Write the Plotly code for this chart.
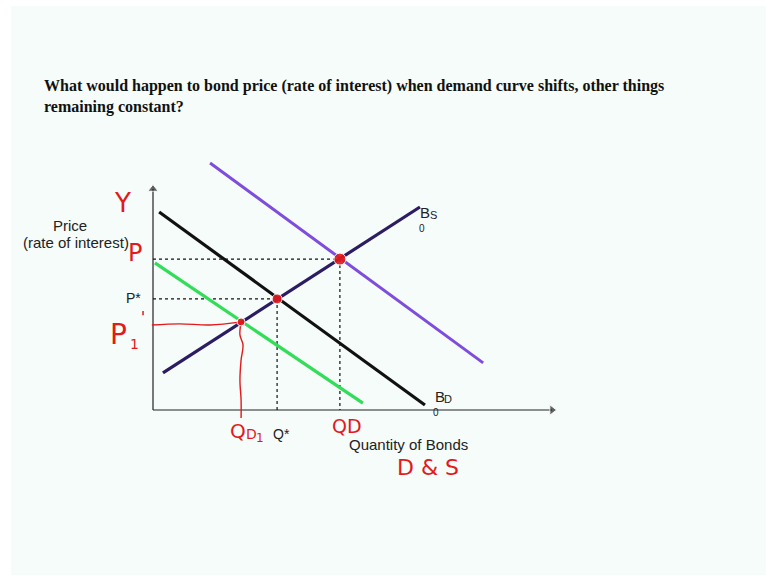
import plotly.graph_objects as go

# --- bond market curves (quantity, price) ---
supply_q = [0.26, 6.97]
supply_p = [0.97, 5.30]

demand0_q = [0.16, 7.10]      # original demand B_D0
demand0_p = [5.17, 0.13]

demand_low_q = [0.05, 5.48]   # demand shifted left
demand_low_p = [3.84, 0.18]

demand_high_q = [1.49, 8.62]  # demand shifted right
demand_high_p = [6.45, 1.23]

# equilibria: original, after rightward shift, after leftward shift
eq_q = [3.24, 4.88, 2.30]
eq_p = [2.90, 3.94, 2.30]

# axis extents
q_max = 10.42
p_max = 5.77

# hand-drawn marker guide from P1 to QD1
p1_guide_q = [-0.03, 0.70, 1.49, 2.30]
p1_guide_p = [2.22, 2.25, 2.22, 2.30]
qd1_guide_q = [2.30, 2.27, 2.35, 2.30, 2.27, 2.30, 2.30]
qd1_guide_p = [2.30, 1.96, 1.70, 1.31, 0.78, 0.26, -0.21]
stray_q = [-0.26]
stray_p = [2.53]

W, H = 766, 579
PX = 38.3                 # pixels per unit
ORIGIN = (153, 410)       # pixel position of the axes origin
x_range = [-ORIGIN[0] / PX, (W - ORIGIN[0]) / PX]
y_range = [-(H - ORIGIN[1]) / PX, ORIGIN[1] / PX]

INK = "#222222"
RED = "#e3191c"
SANS = "Liberation Sans, Arial, sans-serif"
HAND = "DejaVu Sans, sans-serif"

fig = go.Figure()

# axes with arrowheads
fig.add_trace(go.Scatter(x=[0, q_max], y=[0, 0], mode="lines+markers",
                         line=dict(color=INK, width=1.2),
                         marker=dict(symbol=["circle", "triangle-right"], size=[0, 9], color=INK),
                         hoverinfo="skip"))
fig.add_trace(go.Scatter(x=[0, 0], y=[0, p_max], mode="lines+markers",
                         line=dict(color=INK, width=1.2),
                         marker=dict(symbol=["circle", "triangle-up"], size=[0, 9], color=INK),
                         hoverinfo="skip"))

# dotted guides from original and right-shift equilibria
for q, p in zip(eq_q[:2], eq_p[:2]):
    fig.add_trace(go.Scatter(x=[0, q], y=[p, p], mode="lines",
                             line=dict(color="#111111", width=1.2, dash="dot"), hoverinfo="skip"))
    fig.add_trace(go.Scatter(x=[q, q], y=[p, 0], mode="lines",
                             line=dict(color="#111111", width=1.2, dash="dot"), hoverinfo="skip"))

# curves
fig.add_trace(go.Scatter(x=demand_high_q, y=demand_high_p, mode="lines",
                         line=dict(color="#7f4ddd", width=3)))
fig.add_trace(go.Scatter(x=demand0_q, y=demand0_p, mode="lines",
                         line=dict(color="#111111", width=3.2)))
fig.add_trace(go.Scatter(x=demand_low_q, y=demand_low_p, mode="lines",
                         line=dict(color="#33dd5a", width=3.2)))
fig.add_trace(go.Scatter(x=supply_q, y=supply_p, mode="lines",
                         line=dict(color="#2b1c63", width=3.2)))

# hand-drawn guides
fig.add_trace(go.Scatter(x=p1_guide_q, y=p1_guide_p, mode="lines",
                         line=dict(color=RED, width=1.4, shape="spline"), hoverinfo="skip"))
fig.add_trace(go.Scatter(x=qd1_guide_q, y=qd1_guide_p, mode="lines",
                         line=dict(color=RED, width=1.4, shape="spline"), hoverinfo="skip"))
fig.add_trace(go.Scatter(x=stray_q, y=stray_p, mode="markers",
                         marker=dict(color=RED, size=3, symbol="line-ns",
                                     line=dict(color=RED, width=1.5)), hoverinfo="skip"))

# equilibrium dots
fig.add_trace(go.Scatter(x=eq_q, y=eq_p, mode="markers",
                         marker=dict(color=RED, size=[10, 12, 8], opacity=0.9)))

ann = []


def px_to_data(px, py):
    return (px - ORIGIN[0]) / PX, (ORIGIN[1] - py) / PX


def label(px, py, text, size=15, color=INK, family=SANS):
    x, y = px_to_data(px, py)
    ann.append(dict(x=x, y=y, xref="x", yref="y",
                    text=text, showarrow=False, xanchor="center", yanchor="middle",
                    font=dict(size=size, color=color, family=family)))


# printed labels
for pos, text, size in [
    ((70, 225), "Price", 15),
    ((76, 242), "(rate of interest)", 15),
    ((133, 298), "P*", 14),
    ((281, 434), "Q*", 14),
    ((408, 444), "Quantity of Bonds", 15),
    ((425, 212), "B", 15),
    ((433, 215), "S", 11),
    ((422, 228), "0", 10),
    ((440, 396), "B", 15),
    ((448, 399), "D", 11),
    ((436, 412), "0", 10),
]:
    label(*pos, text, size=size)

# handwritten notes
for pos, text, size in [
    ((122, 203), "Y", 26),
    ((135, 253), "P", 24),
    ((118, 334), "P", 28),
    ((134, 344), "1", 14),
    ((238, 431), "Q", 20),
    ((251, 434), "D", 14),
    ((260, 438), "1", 12),
    ((347, 426), "QD", 19),
    ((428, 467), "D & S", 22),
]:
    label(*pos, text, size=size, color=RED, family=HAND)

# slide title
ann.append(dict(x=42 / W, y=1 - 96 / H, xref="paper", yref="paper", xanchor="left", yanchor="middle",
                align="left", showarrow=False,
                text="<b>What would happen to bond price (rate of interest) when demand curve shifts, other things"
                     "<br>remaining constant?</b>",
                font=dict(size=16, color="#111111", family="Liberation Serif, Times New Roman, serif")))

fig.update_layout(
    width=W, height=H, margin=dict(l=0, r=0, t=0, b=0),
    paper_bgcolor="white", plot_bgcolor="rgba(0,0,0,0)",
    showlegend=False,
    xaxis=dict(range=x_range, visible=False, fixedrange=True),
    yaxis=dict(range=y_range, visible=False, fixedrange=True),
    annotations=ann,
    shapes=[dict(type="rect", xref="paper", yref="paper", x0=11 / W, x1=1, y0=1 - 575 / H, y1=1 - 6 / H,
                 fillcolor="#f5fcf9", line=dict(width=0), layer="below")],
)

fig.write_html("out.html")
